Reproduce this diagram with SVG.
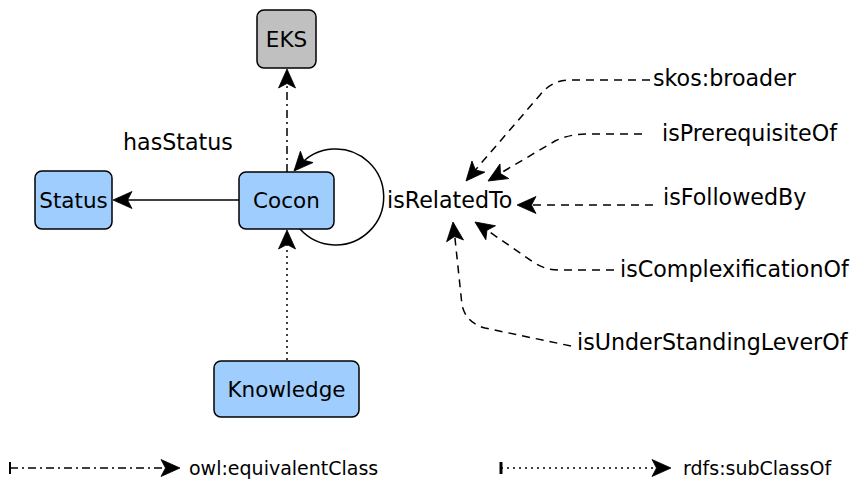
<svg xmlns="http://www.w3.org/2000/svg" width="854" height="490" viewBox="0 0 854 490">
<style>
.node rect{stroke:#000;stroke-width:1.5}
.blue{fill:#9fcdfd}
.gray{fill:#c0c0c0}
text{font-family:"DejaVu Sans",sans-serif;font-size:21.5px;fill:#000}
.lbl{font-size:22.2px}
.c{text-anchor:middle}
.leg{font-size:19px}
.edge{fill:none;stroke:#000;stroke-width:1.5}
.dash{stroke-dasharray:8,6}
.dashdot{stroke-dasharray:8,4,2,4}
.dot{stroke-dasharray:2,4}
.ah{fill:#000;stroke:#000;stroke-width:0.8;stroke-linejoin:miter}
</style>
<defs>
<path id="ah" class="ah" d="M0,0 L-19,-8.5 L-14.5,0 L-19,8.5 z"/>
</defs>
<g id="connectors">
<path class="edge" d="M239,200 H120"/>
<use href="#ah" transform="translate(113,200) rotate(180)"/>
<path class="edge dashdot" d="M287,172 V76"/>
<use href="#ah" transform="translate(287,69) rotate(-90)"/>
<path class="edge dot" d="M287,360 V237"/>
<use href="#ah" transform="translate(287,230) rotate(-90)"/>
<path class="edge" d="M300,229 A48,48 0 1 0 299,166"/>
<use href="#ah" transform="translate(294,171) rotate(132)"/>
<path class="edge dash" d="M650,80 H570 Q552,80 540,95 L471,175"/>
<use href="#ah" transform="translate(466,181) rotate(130.7)"/>
<path class="edge dash" d="M642,134 H586 Q570,134 555,141 L494,177"/>
<use href="#ah" transform="translate(488,181) rotate(149.2)"/>
<path class="edge dash" d="M653,205 H524"/>
<use href="#ah" transform="translate(517,205) rotate(180)"/>
<path class="edge dash" d="M614,270 H558 Q545,270 533,262 L481,226"/>
<use href="#ah" transform="translate(475,222) rotate(-145.4)"/>
<path class="edge dash" d="M571,346 L485,328 Q466,323 462,305 L454,229"/>
<use href="#ah" transform="translate(453,222) rotate(-96.2)"/>
</g>
<g id="EKS" class="node"><rect class="gray" x="257" y="10" width="59" height="58" rx="7"/><text class="c" x="286.5" y="47">EKS</text></g>
<g id="Cocon" class="node"><rect class="blue" x="239" y="172" width="95" height="57" rx="7"/><text class="c" x="286.5" y="208">Cocon</text></g>
<g id="Status" class="node"><rect class="blue" x="35" y="171" width="77" height="58" rx="7"/><text class="c" x="73.5" y="208">Status</text></g>
<g id="Knowledge" class="node"><rect class="blue" x="214" y="361" width="145" height="56" rx="7"/><text class="c" x="286.5" y="397">Knowledge</text></g>
<g id="labels">
<text class="lbl" x="123" y="150">hasStatus</text>
<text class="lbl" x="387" y="208">isRelatedTo</text>
<text class="lbl" x="653" y="86">skos:broader</text>
<text class="lbl" x="662" y="141">isPrerequisiteOf</text>
<text class="lbl" x="663" y="205">isFollowedBy</text>
<text class="lbl" x="620" y="277">isComplexificationOf</text>
<text class="lbl" x="577" y="350">isUnderStandingLeverOf</text>
</g>
<g id="legend">
<line x1="10" y1="462" x2="10" y2="474" stroke="#000" stroke-width="2"/>
<path class="edge dashdot" d="M10,468 H172"/>
<use href="#ah" transform="translate(180,468)"/>
<text class="leg" x="189" y="475">owl:equivalentClass</text>
<line x1="501" y1="462" x2="501" y2="474" stroke="#000" stroke-width="3"/>
<path class="edge dot" d="M501,468 H663"/>
<use href="#ah" transform="translate(671,468)"/>
<text class="leg" x="683" y="475">rdfs:subClassOf</text>
</g>
</svg>
